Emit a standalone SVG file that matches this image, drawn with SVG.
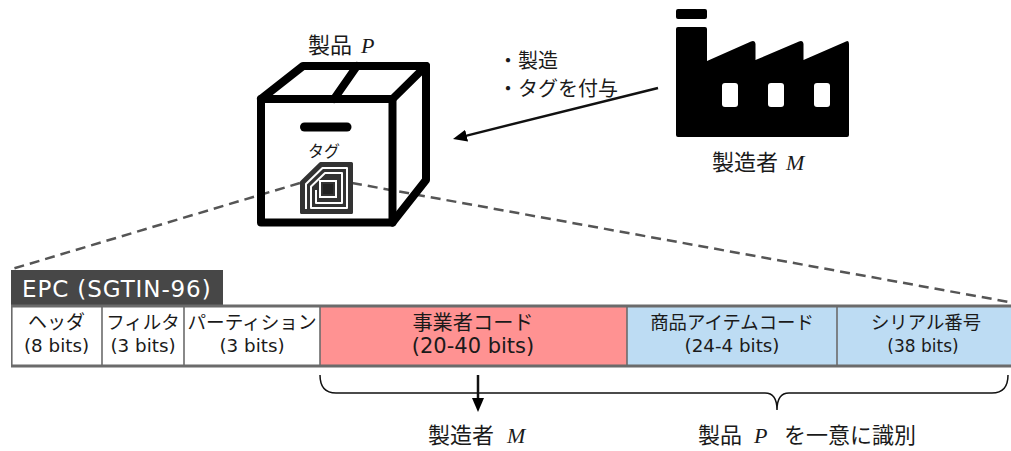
<svg xmlns="http://www.w3.org/2000/svg" width="1011" height="451" viewBox="0 0 1011 451">
  <defs>
    <style>
      .jp { font-family: "Noto Sans CJK JP", sans-serif; fill: #1a1a1a; }
      .cell { font-family: "DejaVu Sans", "Noto Sans CJK JP", sans-serif; fill: #1a1a1a; text-anchor: middle; }
      .math { font-family: "Liberation Serif", "DejaVu Serif", serif; font-style: italic; }
      .dash { fill: none; stroke: #555; stroke-width: 2.5; stroke-dasharray: 10 6; }
      .edge { stroke: #111; stroke-width: 2.5; fill: none; }
      .grid { stroke: #6b6b6b; stroke-width: 1.6; }
      .rule { stroke: #6b6b6b; stroke-width: 3; }
      .box { fill: none; stroke: #000; stroke-width: 8; stroke-linejoin: round; stroke-linecap: round; }
    </style>
    <marker id="arrowhead" markerUnits="userSpaceOnUse" markerWidth="15" markerHeight="12" refX="4" refY="6" orient="auto">
      <path d="M0,0 L14,6 L0,12 Z" fill="#000"/>
    </marker>
  </defs>

  <rect width="1011" height="451" fill="#fff"/>

  <!-- zoom-out guides from the tag to the EPC layout -->
  <g id="guides">
    <line class="dash" x1="300" y1="183" x2="12" y2="269"/>
    <line class="dash" x1="352" y1="183" x2="1009" y2="302"/>
  </g>

  <!-- product box -->
  <g id="product">
    <path class="box" d="M261,99 H392.5 V222.5 H261 Z"/>
    <path class="box" d="M261,99 L303,66 H426 L392.5,99"/>
    <path class="box" d="M426,66 V180 L392.5,222.5"/>
    <path class="box" d="M357,66 L334,99"/>
    <line x1="304.5" y1="127" x2="347" y2="127" stroke="#000" stroke-width="9" stroke-linecap="round"/>
    <text class="jp" x="308" y="53" font-size="22">製品<tspan class="math" x="361">P</tspan></text>
    <text class="jp" x="324" y="157" font-size="16" text-anchor="middle">タグ</text>
  </g>

  <!-- RFID tag icon -->
  <g id="tag">
    <path d="M301.5,182 L320.5,163.5 H351.5 V212.5 H301.5 Z" fill="#333" stroke="#333" stroke-width="3" stroke-linejoin="round"/>
    <path d="M306,209 V184 L322.5,168 H347 V208 H311 V186.5 L325,173 H342 V203 H316 V190" fill="none" stroke="#fff" stroke-width="2" stroke-linejoin="round"/>
    <rect x="320" y="181" width="16" height="16" fill="none" stroke="#fff" stroke-width="2"/>
    <rect x="323" y="184" width="10" height="10" fill="#222"/>
  </g>

  <!-- factory / manufacturer -->
  <g id="factory">
    <rect x="676" y="9" width="31" height="10" rx="2" fill="#000"/>
    <path d="M678,27 H705 Q707,27 707,29 V61 L751,41.5 Q755,40 755.5,44 V60 L799,41.5 Q803,40 803.5,44 V60 L846,41.5 Q849,40 849,44 V135 Q849,137 847,137 H678 Q676,137 676,135 V29 Q676,27 678,27 Z" fill="#000"/>
    <rect x="722" y="83" width="16" height="24" rx="3" fill="#fff"/>
    <rect x="768" y="83" width="16" height="24" rx="3" fill="#fff"/>
    <rect x="814" y="83" width="16" height="24" rx="3" fill="#fff"/>
    <text class="jp" x="712" y="170" font-size="22">製造者<tspan class="math" x="786">M</tspan></text>
  </g>

  <!-- manufacturing step label -->
  <g id="process-label">
    <text class="jp" x="498" y="68" font-size="20">・製造</text>
    <text class="jp" x="498" y="96" font-size="20">・タグを付与</text>
  </g>

  <!-- EPC (SGTIN-96) bit layout -->
  <g id="epc">
    <rect x="11" y="270" width="212" height="36" fill="#474747"/>
    <text x="22" y="297" font-family="DejaVu Sans, sans-serif" font-size="23" letter-spacing="0.9" fill="#fff">EPC (SGTIN-96)</text>

    <g id="cell-header">
      <rect x="11" y="306" width="91" height="60" fill="#fff"/>
      <text class="cell" x="56.5" y="329" font-size="19">ヘッダ</text>
      <text class="cell" x="56.5" y="352" font-size="18.3">(8 bits)</text>
    </g>
    <g id="cell-filter">
      <rect x="102" y="306" width="82" height="60" fill="#fff"/>
      <text class="cell" x="143" y="329" font-size="18.5">フィルタ</text>
      <text class="cell" x="143" y="352" font-size="18.3">(3 bits)</text>
    </g>
    <g id="cell-partition">
      <rect x="184" y="306" width="136" height="60" fill="#fff"/>
      <text class="cell" x="252" y="329" font-size="18.6">パーティション</text>
      <text class="cell" x="252" y="352" font-size="18.3">(3 bits)</text>
    </g>
    <g id="cell-company">
      <rect x="320" y="306" width="307" height="60" fill="#ff9292"/>
      <text class="cell" x="473" y="330" font-size="20.2">事業者コード</text>
      <text class="cell" x="473" y="353" font-size="21">(20-40 bits)</text>
    </g>
    <g id="cell-item">
      <rect x="627" y="306" width="210" height="60" fill="#bddcf3"/>
      <text class="cell" x="732" y="329" font-size="18.4">商品アイテムコード</text>
      <text class="cell" x="732" y="352" font-size="18.3">(24-4 bits)</text>
    </g>
    <g id="cell-serial">
      <rect x="837" y="306" width="174" height="60" fill="#bddcf3"/>
      <text class="cell" x="926" y="329" font-size="18.4">シリアル番号</text>
      <text class="cell" x="923" y="352" font-size="17">(38 bits)</text>
    </g>

    <line class="rule" x1="11" y1="306" x2="1011" y2="306"/>
    <line class="rule" x1="11" y1="366" x2="1011" y2="366"/>
    <line class="grid" x1="11.8" y1="306" x2="11.8" y2="366"/>
    <line class="grid" x1="102" y1="306" x2="102" y2="366"/>
    <line class="grid" x1="184" y1="306" x2="184" y2="366"/>
    <line class="grid" x1="320" y1="306" x2="320" y2="366"/>
    <line class="grid" x1="627" y1="306" x2="627" y2="366"/>
    <line class="grid" x1="837" y1="306" x2="837" y2="366"/>
  </g>

  <!-- connectors -->
  <g id="connectors">
    <line class="edge" x1="658" y1="88" x2="462.7" y2="136.6" marker-end="url(#arrowhead)"/>
    <line class="edge" x1="478" y1="375" x2="478" y2="402" marker-end="url(#arrowhead)"/>
    <path d="M320,375 Q320,393 336,393 H765 Q777,393 777,410 Q777,393 789,393 H992 Q1008,393 1008,375" fill="none" stroke="#111" stroke-width="1.5"/>
  </g>

  <!-- meaning of the fields -->
  <g id="field-labels">
    <text class="jp" x="428" y="443" font-size="22">製造者<tspan class="math" x="507">M</tspan></text>
    <text class="jp" x="698" y="443" font-size="22">製品<tspan class="math" x="754">P</tspan><tspan x="784">を一意に識別</tspan></text>
  </g>
</svg>
